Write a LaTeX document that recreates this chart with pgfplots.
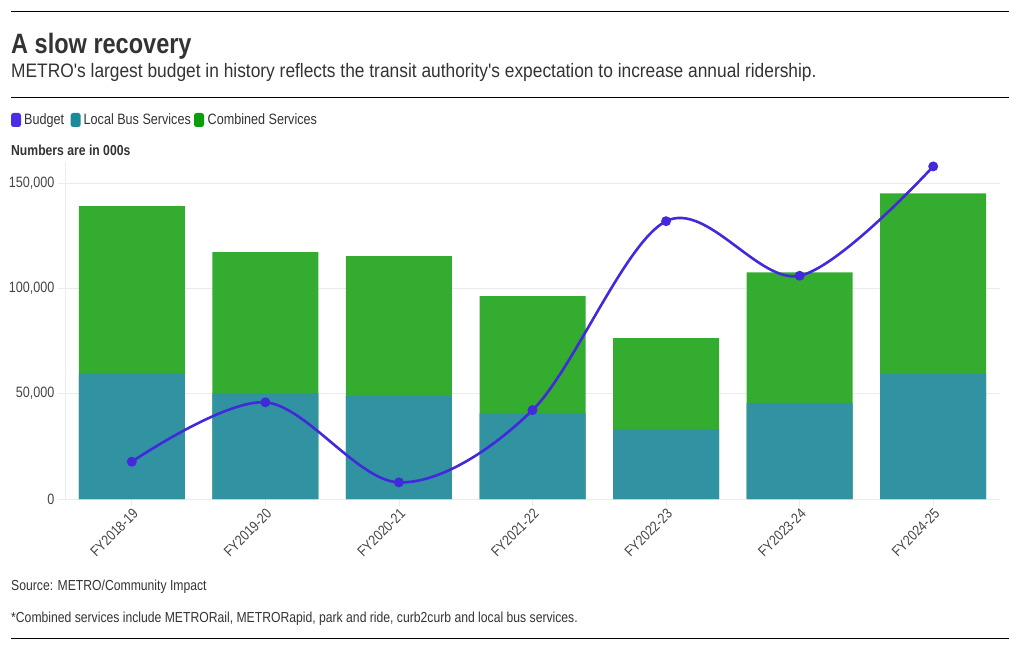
\documentclass[border=0pt]{standalone}
\usepackage{fontspec}
\setmainfont{Liberation Sans}[FakeStretch=0.84]
\newfontfamily\subfont{Liberation Sans}[FakeStretch=0.89]
\usepackage{pgfplots}
\pgfplotsset{compat=1.18}
\definecolor{budget}{HTML}{4329DC}
\definecolor{localc}{HTML}{3193A1}
\definecolor{comb}{HTML}{33AC30}
\definecolor{legbudget}{HTML}{4A2EE6}
\definecolor{leglocal}{HTML}{1C8A99}
\definecolor{legcomb}{HTML}{0A9E0A}
\definecolor{txt}{HTML}{333333}
\definecolor{tickc}{HTML}{444444}
\definecolor{gridc}{HTML}{EBEBEB}
\begin{document}
\begin{tikzpicture}
\path[use as bounding box] (0pt,0pt) rectangle (1020pt,-650pt);
\draw[black, line width=0.9pt] (11pt,-11.5pt) -- (1009pt,-11.5pt);
\draw[black, line width=0.9pt] (11pt,-97.5pt) -- (1009pt,-97.5pt);
\draw[black, line width=0.9pt] (11pt,-638.5pt) -- (1009pt,-638.5pt);
\node[anchor=base west, inner sep=0pt, text=txt, font=\bfseries\fontsize{28}{32}\selectfont] at (11pt,-54pt) {A slow recovery};
\node[anchor=base west, inner sep=0pt, text=txt, font=\subfont\fontsize{19.5}{22}\selectfont] at (11pt,-78pt) {METRO\symbol{39}s largest budget in history reflects the transit authority\symbol{39}s expectation to increase annual ridership.};
% legend
\fill[legbudget, rounded corners=2.5pt] (11pt,-113pt) rectangle (21pt,-127pt);
\node[anchor=base west, inner sep=0pt, text=txt, font=\fontsize{15}{18}\selectfont] at (24pt,-125pt) {Budget};
\fill[leglocal, rounded corners=2.5pt] (70.7pt,-113pt) rectangle (80.7pt,-127pt);
\node[anchor=base west, inner sep=0pt, text=txt, font=\fontsize{15}{18}\selectfont] at (83.5pt,-125pt) {Local Bus Services};
\fill[legcomb, rounded corners=2.5pt] (194pt,-113pt) rectangle (204pt,-127pt);
\node[anchor=base west, inner sep=0pt, text=txt, font=\fontsize{15}{18}\selectfont] at (207.5pt,-125pt) {Combined Services};
\node[anchor=base west, inner sep=0pt, text=txt, font=\bfseries\fontsize{14.5}{17}\selectfont] at (11pt,-156pt) {Numbers are in 000s};
\node[anchor=base west, inner sep=0pt, text=txt, font=\fontsize{14.5}{17}\selectfont] at (11pt,-590pt) {Source: METRO/Community Impact};
\node[anchor=base west, inner sep=0pt, text=txt, font=\fontsize{14.5}{17}\selectfont] at (11pt,-622.5pt) {*Combined services include METRORail, METRORapid, park and ride, curb2curb and local bus services.};
\begin{axis}[
  at={(65pt,-499pt)}, anchor=south west,
  scale only axis, width=935pt, height=337pt,
  xmin=-0.5, xmax=6.5, ymin=0, ymax=160000,
  axis x line*=bottom, axis y line*=left,
  axis line style={draw=gridc, line width=0.8pt},
  ymajorgrids, grid style={draw=gridc, line width=0.8pt},
  xtick={0,1,2,3,4,5,6},
  xticklabels={FY2018-19,FY2019-20,FY2020-21,FY2021-22,FY2022-23,FY2023-24,FY2024-25},
  x tick label style={rotate=45, anchor=north east, text=tickc, font=\fontsize{14.5}{18}\selectfont, inner sep=1pt},
  ytick={0,50000,100000,150000},
  scaled y ticks=false,
  yticklabels={0,{50,000},{100,000},{150,000}},
  y tick label style={text=tickc, font=\fontsize{15}{18}\selectfont},
  tick style={draw=gridc, line width=0.8pt},
  major tick length=7pt, tick align=outside,
]
\addplot[ybar, bar width=106pt, bar shift=0pt, fill=comb, draw=none] coordinates {
(0,139100) (1,117200) (2,115300) (3,96300) (4,76400) (5,107600) (6,145100)};
\addplot[ybar, bar width=106pt, bar shift=0pt, fill=localc, draw=none] coordinates {
(0,59700) (1,50200) (2,48900) (3,40800) (4,33200) (5,45600) (6,59300)};
\addplot[budget, line width=2.6pt, smooth, tension=0.55, mark=*, mark size=3.6pt, mark options={fill=budget, draw=none}] coordinates {
(0,17700) (1,45900) (2,7900) (3,42200) (4,131900) (5,106000) (6,157900)};
\end{axis}
\end{tikzpicture}
\end{document}
